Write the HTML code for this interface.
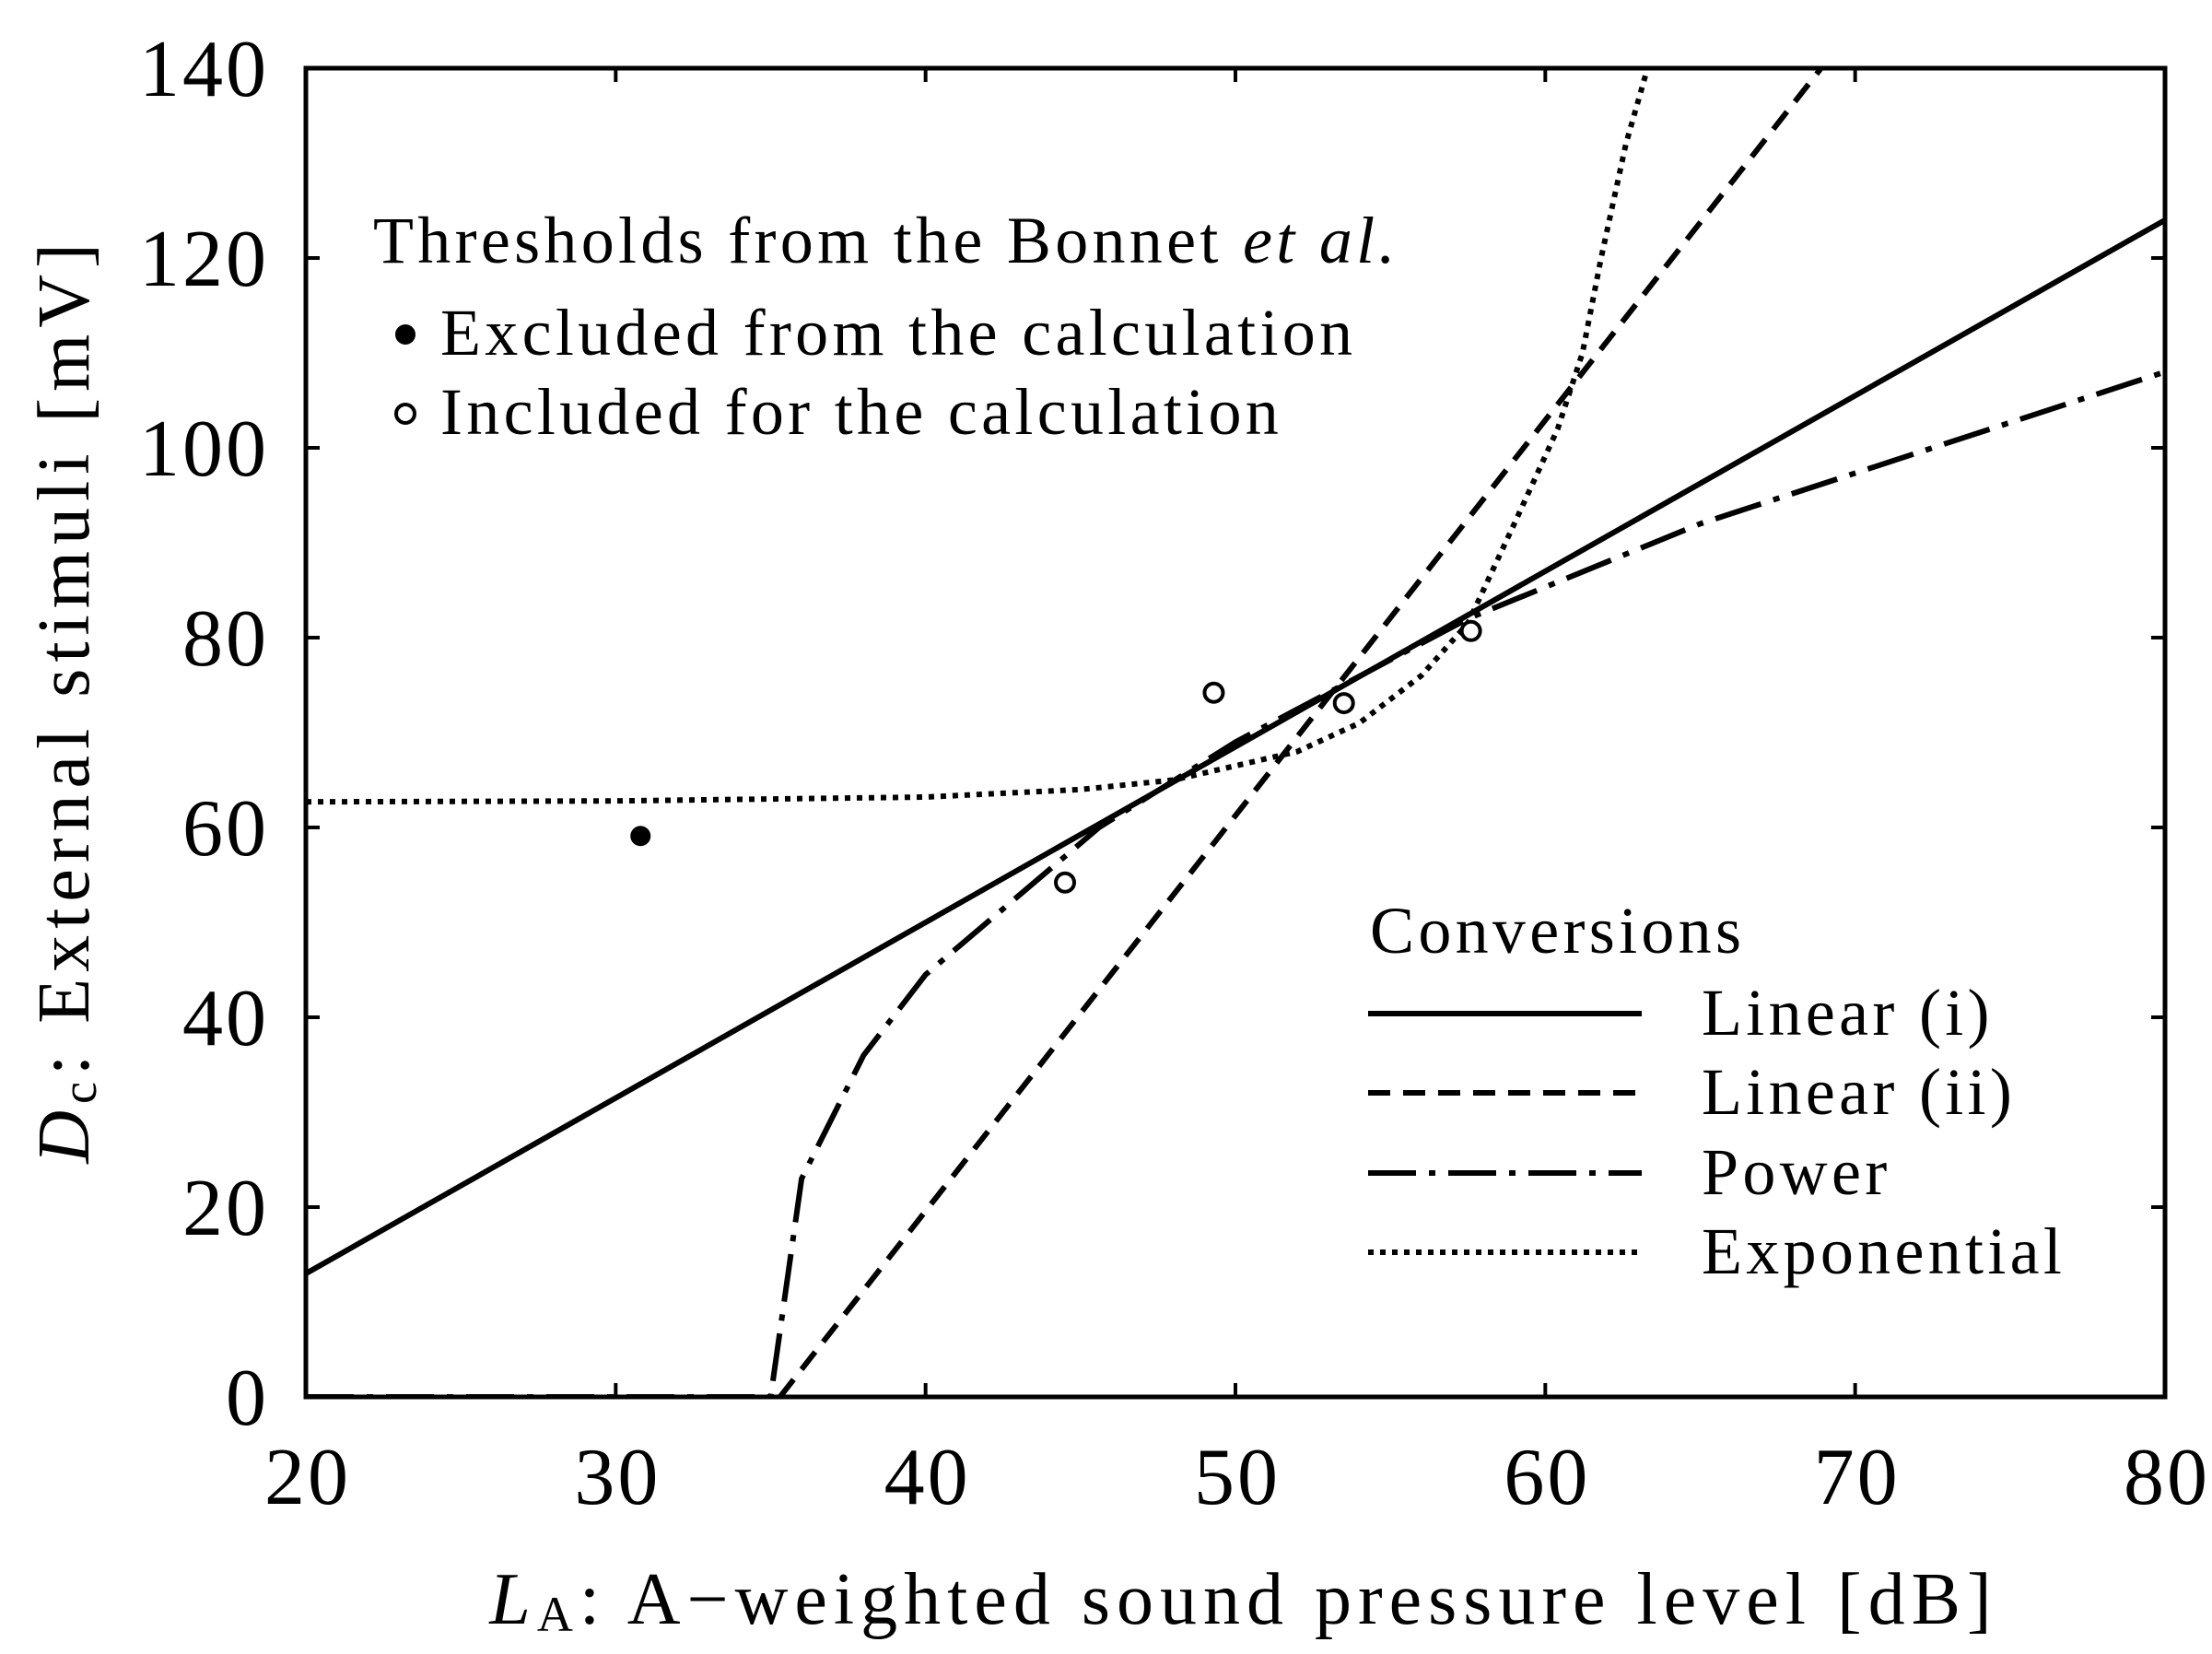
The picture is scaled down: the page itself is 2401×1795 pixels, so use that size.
<!DOCTYPE html>
<html><head><meta charset="utf-8"><style>
html,body{margin:0;padding:0;background:#fff}
svg{display:block;font-family:"Liberation Serif",serif}
</style></head><body>
<svg id="chart" width="2401" height="1795" viewBox="0 0 2401 1795" xmlns="http://www.w3.org/2000/svg">
<g id="plot"></g>
</svg>
<script>
const xTicks=[20,30,40,50,60,70,80];
const yTicks=[0,20,40,60,80,100,120,140];
const linear1X=[20,80];
const linear1Y=[13,124];
const linear2X=[35.3,68.9];
const linear2Y=[0,140];
const powerX=[20,35,36,38,40,45.6,50,57.5,65,80];
const powerY=[0,0,23,36,44.5,60,69,82,92,108];
const expX=[20,30,40,45,48,50,52,54,56,57.5,59,60.4,61.2,61.8,62.6,63.3];
const expY=[62.7,62.8,63.2,64,65,66.5,68,71,76,81.5,92,102,110,120,132,140];
const excludedX=[30.8];
const excludedY=[59.1];
const includedX=[44.5,49.3,53.5,57.6];
const includedY=[54.2,74.2,73.1,80.7];

const L=332,R=2350,T=74,B=1516;
const sx=v=>L+(v-20)/60*(R-L);
const sy=v=>B-v/140*(B-T);
const NS="http://www.w3.org/2000/svg";
const g=document.getElementById('plot');
function mk(tag,attrs,parent){const e=document.createElementNS(NS,tag);for(const k in attrs)e.setAttribute(k,attrs[k]);(parent||g).appendChild(e);return e;}
function clip(){mk('clipPath',{id:'pc'});const c=g.lastChild;mk('rect',{x:L,y:T,width:R-L,height:B-T},c);}
clip();
function series(xs,ys,dash,name){
  const d=xs.map((x,i)=>(i?'L':'M')+sx(x).toFixed(1)+','+sy(ys[i]).toFixed(1)).join(' ');
  const p=mk('path',{d:d,fill:'none',stroke:'#000','stroke-width':6,'stroke-dasharray':dash,'clip-path':'url(#pc)'});
  
  
}
series(linear1X,linear1Y,'none','linear-i-line');
series(linear2X,linear2Y,'24,14','linear-ii-line');
series(powerX,powerY,'52,14,7,14','power-line');
series(expX,expY,'6,7','exponential-line');
excludedX.forEach((x,i)=>{const c=mk('circle',{cx:sx(x),cy:sy(excludedY[i]),r:11,fill:'#000'});

});
includedX.forEach((x,i)=>{const c=mk('circle',{cx:sx(x),cy:sy(includedY[i]),r:10,fill:'#fff',stroke:'#000','stroke-width':4});

});
const fr=mk('rect',{x:L,y:T,width:R-L,height:B-T,fill:'none',stroke:'#000','stroke-width':5});


xTicks.forEach(v=>{
  mk('line',{x1:sx(v),x2:sx(v),y1:B,y2:B-15,stroke:'#000','stroke-width':4});
  mk('line',{x1:sx(v),x2:sx(v),y1:T,y2:T+15,stroke:'#000','stroke-width':4});
  const t=mk('text',{x:sx(v)+2,y:1632,'font-size':88,'letter-spacing':3,'text-anchor':'middle'});t.textContent=v;
  
  
});
yTicks.forEach(v=>{
  mk('line',{x1:L,x2:L+15,y1:sy(v),y2:sy(v),stroke:'#000','stroke-width':4});
  mk('line',{x1:R,x2:R-15,y1:sy(v),y2:sy(v),stroke:'#000','stroke-width':4});
  const t=mk('text',{x:292,y:sy(v)+30,'font-size':88,'letter-spacing':3,'text-anchor':'end'});t.textContent=v;
  
  
});
</script>
<svg width="2401" height="1795" style="position:absolute;left:0;top:0" font-family="Liberation Serif, serif">
<text x="1350" y="1762" font-size="80" letter-spacing="7" text-anchor="middle"><tspan font-style="italic">L</tspan><tspan font-size="54" dy="8">A</tspan><tspan dy="-8">: A−weighted sound pressure level [dB]</tspan></text>
<text transform="translate(96,760) rotate(-90)" font-size="80" letter-spacing="7" text-anchor="middle"><tspan font-style="italic">D</tspan><tspan font-size="54" dy="8">c</tspan><tspan dy="-8">: External stimuli [mV]</tspan></text>
<g font-size="72" letter-spacing="4.3">
<text x="405" y="285">Thresholds from the Bonnet <tspan font-style="italic">et al.</tspan></text>
<circle cx="440" cy="363" r="11" fill="#000"/>
<text x="478" y="385">Excluded from the calculation</text>
<circle cx="440" cy="449" r="10" fill="#fff" stroke="#000" stroke-width="4"/>
<text x="478" y="471">Included for the calculation</text>
</g>
<g font-size="72" letter-spacing="4.3">
<text x="1487" y="1034">Conversions</text>
<line x1="1485" x2="1782" y1="1100" y2="1100" stroke="#000" stroke-width="6"/>
<text x="1847" y="1123">Linear (i)</text>
<line x1="1485" x2="1782" y1="1186" y2="1186" stroke="#000" stroke-width="6" stroke-dasharray="24,14"/>
<text x="1847" y="1209">Linear (ii)</text>
<line x1="1485" x2="1782" y1="1273" y2="1273" stroke="#000" stroke-width="6" stroke-dasharray="52,14,7,14"/>
<text x="1847" y="1296">Power</text>
<line x1="1485" x2="1782" y1="1359" y2="1359" stroke="#000" stroke-width="6" stroke-dasharray="6,7"/>
<text x="1847" y="1382">Exponential</text>
</g>
</svg>
</body></html>
